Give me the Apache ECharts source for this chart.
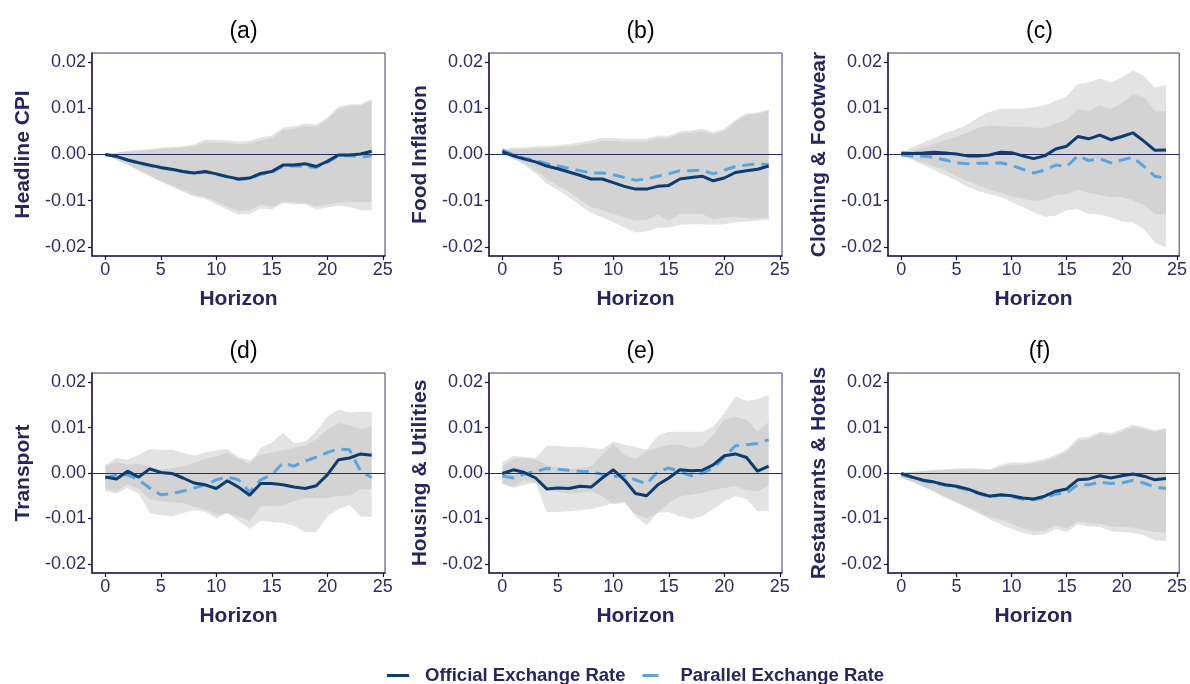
<!DOCTYPE html>
<html>
<head>
<meta charset="utf-8">
<title>Impulse responses of inflation components</title>
<script src="https://cdn.jsdelivr.net/npm/echarts@6/dist/echarts.min.js"></script>
<style>
  html, body { margin: 0; padding: 0; background: #ffffff; }
  #chart { width: 1190px; height: 684px; }
</style>
</head>
<body>
<div id="chart"></div>
<script>
// Horizon (months after the shock)
const horizon = [0, 1, 2, 3, 4, 5, 6, 7, 8, 9, 10, 11, 12, 13, 14, 15, 16, 17, 18, 19, 20, 21, 22, 23, 24];
const xTicks = [0, 5, 10, 15, 20, 25];
const yTicks = [-0.02, -0.01, 0, 0.01, 0.02];

const panelTitles = ['(a)', '(b)', '(c)', '(d)', '(e)', '(f)'];
const panelNames = ['Headline CPI', 'Food Inflation', 'Clothing & Footwear', 'Transport', 'Housing & Utilities', 'Restaurants & Hotels'];
const seriesNames = ['Official Exchange Rate', 'Parallel Exchange Rate'];

// (a) Headline CPI
const cpiOfficial   = [0, -0.0004, -0.0012, -0.0018, -0.0023, -0.0028, -0.0032, -0.0037, -0.0040, -0.0037, -0.0042, -0.0048, -0.0053, -0.0051, -0.0041, -0.0037, -0.0023, -0.0023, -0.0020, -0.0026, -0.0015, -0.0001, -0.0001, 0.0001, 0.0007];
const cpiParallel   = [0, -0.0005, -0.0012, -0.0019, -0.0024, -0.0029, -0.0033, -0.0037, -0.0041, -0.0038, -0.0043, -0.0049, -0.0054, -0.0052, -0.0043, -0.0039, -0.0025, -0.0025, -0.0026, -0.0028, -0.0017, -0.0003, -0.0002, -0.0006, -0.0003];
const cpiOfficialHi = [0, 0.0004, 0.0008, 0.0010, 0.0012, 0.0015, 0.0016, 0.0018, 0.0022, 0.0032, 0.0032, 0.0031, 0.0028, 0.0029, 0.0037, 0.0041, 0.0058, 0.0061, 0.0067, 0.0065, 0.0080, 0.0104, 0.0109, 0.0109, 0.0120];
const cpiOfficialLo = [0, -0.0012, -0.0023, -0.0035, -0.0047, -0.0059, -0.0070, -0.0081, -0.0091, -0.0096, -0.0108, -0.0120, -0.0130, -0.0129, -0.0117, -0.0119, -0.0105, -0.0108, -0.0108, -0.0120, -0.0115, -0.0111, -0.0114, -0.0121, -0.0121];
const cpiParallelHi = [0, 0.0003, 0.0006, 0.0008, 0.0010, 0.0012, 0.0013, 0.0015, 0.0018, 0.0026, 0.0026, 0.0025, 0.0023, 0.0024, 0.0031, 0.0035, 0.0053, 0.0056, 0.0062, 0.0060, 0.0076, 0.0098, 0.0105, 0.0106, 0.0118];
const cpiParallelLo = [0, -0.0010, -0.0021, -0.0033, -0.0045, -0.0057, -0.0067, -0.0077, -0.0087, -0.0092, -0.0102, -0.0113, -0.0122, -0.0121, -0.0109, -0.0113, -0.0103, -0.0104, -0.0106, -0.0112, -0.0108, -0.0104, -0.0103, -0.0103, -0.0103];

// (b) Food inflation
const foodOfficial   = [0.0006, -0.0003, -0.0010, -0.0016, -0.0025, -0.0031, -0.0038, -0.0045, -0.0053, -0.0053, -0.0061, -0.0069, -0.0075, -0.0075, -0.0069, -0.0067, -0.0053, -0.0050, -0.0047, -0.0057, -0.0051, -0.0039, -0.0035, -0.0032, -0.0025];
const foodParallel   = [0.0010, -0.0001, -0.0008, -0.0013, -0.0020, -0.0025, -0.0030, -0.0035, -0.0040, -0.0040, -0.0044, -0.0050, -0.0056, -0.0053, -0.0047, -0.0042, -0.0035, -0.0035, -0.0034, -0.0042, -0.0034, -0.0026, -0.0023, -0.0020, -0.0022];
const foodOfficialHi = [0.0009, 0.0012, 0.0012, 0.0014, 0.0014, 0.0016, 0.0018, 0.0021, 0.0025, 0.0029, 0.0029, 0.0028, 0.0028, 0.0028, 0.0035, 0.0035, 0.0045, 0.0047, 0.0050, 0.0044, 0.0051, 0.0071, 0.0085, 0.0088, 0.0096];
const foodOfficialLo = [0.0003, -0.0010, -0.0023, -0.0041, -0.0063, -0.0077, -0.0092, -0.0110, -0.0127, -0.0136, -0.0147, -0.0158, -0.0169, -0.0167, -0.0159, -0.0158, -0.0152, -0.0151, -0.0151, -0.0152, -0.0151, -0.0147, -0.0145, -0.0143, -0.0142];
const foodParallelHi = [0.0010, 0.0015, 0.0016, 0.0018, 0.0018, 0.0020, 0.0023, 0.0026, 0.0031, 0.0036, 0.0036, 0.0034, 0.0034, 0.0034, 0.0041, 0.0040, 0.0050, 0.0052, 0.0056, 0.0048, 0.0056, 0.0076, 0.0089, 0.0091, 0.0098];
const foodParallelLo = [0.0003, -0.0008, -0.0019, -0.0034, -0.0052, -0.0067, -0.0081, -0.0098, -0.0114, -0.0121, -0.0129, -0.0136, -0.0143, -0.0142, -0.0130, -0.0143, -0.0129, -0.0129, -0.0129, -0.0140, -0.0136, -0.0136, -0.0137, -0.0138, -0.0137];

// (c) Clothing & footwear
const clothOfficial   = [0.0003, 0.0002, 0.0003, 0.0005, 0.0003, 0.0001, -0.0003, -0.0003, -0.0001, 0.0005, 0.0004, -0.0003, -0.0009, -0.0003, 0.0012, 0.0018, 0.0039, 0.0034, 0.0042, 0.0032, 0.0039, 0.0047, 0.0029, 0.0009, 0.0010];
const clothParallel   = [-0.0001, -0.0003, -0.0004, -0.0006, -0.0012, -0.0018, -0.0020, -0.0019, -0.0019, -0.0018, -0.0023, -0.0032, -0.0040, -0.0034, -0.0023, -0.0026, -0.0003, -0.0013, -0.0009, -0.0018, -0.0012, -0.0006, -0.0026, -0.0047, -0.0052];
const clothOfficialHi = [0.0002, 0.0016, 0.0026, 0.0036, 0.0047, 0.0054, 0.0065, 0.0080, 0.0092, 0.0099, 0.0099, 0.0099, 0.0102, 0.0107, 0.0116, 0.0126, 0.0153, 0.0156, 0.0165, 0.0156, 0.0167, 0.0182, 0.0170, 0.0145, 0.0151];
const clothOfficialLo = [-0.0001, -0.0009, -0.0018, -0.0026, -0.0035, -0.0047, -0.0057, -0.0067, -0.0076, -0.0083, -0.0091, -0.0096, -0.0101, -0.0098, -0.0088, -0.0085, -0.0077, -0.0083, -0.0088, -0.0092, -0.0092, -0.0099, -0.0110, -0.0129, -0.0130];
const clothParallelHi = [0.0001, 0.0009, 0.0016, 0.0023, 0.0031, 0.0038, 0.0047, 0.0058, 0.0063, 0.0061, 0.0060, 0.0060, 0.0058, 0.0058, 0.0067, 0.0075, 0.0098, 0.0094, 0.0107, 0.0099, 0.0111, 0.0131, 0.0124, 0.0094, 0.0094];
const clothParallelLo = [-0.0002, -0.0012, -0.0023, -0.0034, -0.0045, -0.0057, -0.0070, -0.0079, -0.0086, -0.0092, -0.0103, -0.0114, -0.0125, -0.0135, -0.0133, -0.0121, -0.0118, -0.0129, -0.0130, -0.0136, -0.0145, -0.0147, -0.0162, -0.0191, -0.0202];

// (d) Transport
const transOfficial   = [-0.0009, -0.0013, 0.0004, -0.0009, 0.0009, 0.0001, -0.0001, -0.0011, -0.0022, -0.0026, -0.0034, -0.0017, -0.0031, -0.0049, -0.0023, -0.0023, -0.0026, -0.0031, -0.0034, -0.0028, -0.0004, 0.0029, 0.0033, 0.0042, 0.0039];
const transParallel   = [-0.0011, -0.0004, -0.0004, -0.0015, -0.0033, -0.0048, -0.0045, -0.0040, -0.0033, -0.0026, -0.0015, -0.0009, -0.0015, -0.0042, -0.0015, -0.0004, 0.0022, 0.0015, 0.0026, 0.0035, 0.0045, 0.0053, 0.0051, 0.0004, -0.0010];
const transOfficialHi = [0.0018, 0.0033, 0.0029, 0.0040, 0.0053, 0.0050, 0.0051, 0.0044, 0.0038, 0.0045, 0.0050, 0.0053, 0.0035, 0.0028, 0.0040, 0.0045, 0.0050, 0.0055, 0.0060, 0.0075, 0.0095, 0.0110, 0.0105, 0.0096, 0.0102];
const transOfficialLo = [-0.0035, -0.0040, -0.0025, -0.0035, -0.0058, -0.0062, -0.0065, -0.0066, -0.0075, -0.0080, -0.0092, -0.0088, -0.0105, -0.0123, -0.0105, -0.0108, -0.0110, -0.0116, -0.0130, -0.0130, -0.0095, -0.0080, -0.0070, -0.0096, -0.0096];
const transParallelHi = [0.0015, 0.0025, 0.0018, 0.0020, 0.0015, 0.0007, 0.0011, 0.0015, 0.0022, 0.0031, 0.0037, 0.0044, 0.0031, 0.0020, 0.0055, 0.0067, 0.0088, 0.0066, 0.0069, 0.0091, 0.0124, 0.0139, 0.0133, 0.0135, 0.0135];
const transParallelLo = [-0.0040, -0.0045, -0.0033, -0.0045, -0.0088, -0.0093, -0.0095, -0.0088, -0.0082, -0.0085, -0.0100, -0.0088, -0.0095, -0.0106, -0.0073, -0.0072, -0.0072, -0.0062, -0.0055, -0.0055, -0.0055, -0.0050, -0.0050, -0.0036, -0.0035];

// (e) Housing & utilities
const houseOfficial   = [-0.0001, 0.0007, 0.0001, -0.0011, -0.0035, -0.0033, -0.0034, -0.0029, -0.0031, -0.0011, 0.0007, -0.0015, -0.0045, -0.0050, -0.0026, -0.0011, 0.0007, 0.0005, 0.0006, 0.0018, 0.0038, 0.0042, 0.0034, 0.0004, 0.0015];
const houseParallel   = [-0.0006, -0.0011, -0.0002, 0.0003, 0.0010, 0.0008, 0.0006, 0.0004, 0.0003, -0.0003, -0.0008, -0.0005, -0.0015, -0.0024, 0.0003, 0.0011, 0.0003, -0.0006, 0.0000, 0.0010, 0.0035, 0.0060, 0.0062, 0.0065, 0.0073];
const houseOfficialHi = [0.0015, 0.0031, 0.0033, 0.0029, 0.0018, 0.0011, 0.0007, 0.0011, 0.0015, 0.0040, 0.0064, 0.0040, 0.0031, 0.0048, 0.0055, 0.0062, 0.0062, 0.0055, 0.0059, 0.0084, 0.0117, 0.0124, 0.0117, 0.0091, 0.0113];
const houseOfficialLo = [-0.0026, -0.0030, -0.0015, -0.0022, -0.0086, -0.0086, -0.0084, -0.0082, -0.0079, -0.0073, -0.0066, -0.0062, -0.0095, -0.0115, -0.0088, -0.0086, -0.0095, -0.0101, -0.0095, -0.0080, -0.0062, -0.0051, -0.0058, -0.0084, -0.0084];
const houseParallelHi = [0.0023, 0.0038, 0.0035, 0.0033, 0.0060, 0.0060, 0.0058, 0.0057, 0.0055, 0.0053, 0.0069, 0.0062, 0.0057, 0.0051, 0.0082, 0.0091, 0.0091, 0.0091, 0.0091, 0.0102, 0.0132, 0.0168, 0.0159, 0.0162, 0.0172];
const houseParallelLo = [-0.0022, -0.0033, -0.0026, -0.0022, -0.0037, -0.0042, -0.0045, -0.0044, -0.0040, -0.0051, -0.0069, -0.0066, -0.0091, -0.0099, -0.0088, -0.0066, -0.0051, -0.0048, -0.0044, -0.0037, -0.0033, -0.0029, -0.0038, -0.0040, -0.0028];

// (f) Restaurants & hotels
const hotelOfficial   = [-0.0001, -0.0009, -0.0016, -0.0020, -0.0026, -0.0029, -0.0035, -0.0044, -0.0051, -0.0048, -0.0050, -0.0055, -0.0057, -0.0051, -0.0040, -0.0035, -0.0015, -0.0013, -0.0006, -0.0011, -0.0006, -0.0002, -0.0007, -0.0015, -0.0012];
const hotelParallel   = [-0.0003, -0.0010, -0.0017, -0.0022, -0.0027, -0.0031, -0.0037, -0.0045, -0.0052, -0.0049, -0.0052, -0.0057, -0.0059, -0.0055, -0.0046, -0.0044, -0.0026, -0.0026, -0.0020, -0.0023, -0.0022, -0.0016, -0.0022, -0.0031, -0.0034];
const hotelOfficialHi = [0, 0.0003, 0.0005, 0.0007, 0.0008, 0.0010, 0.0011, 0.0010, 0.0008, 0.0018, 0.0023, 0.0023, 0.0026, 0.0031, 0.0040, 0.0051, 0.0077, 0.0080, 0.0091, 0.0088, 0.0096, 0.0106, 0.0101, 0.0094, 0.0099];
const hotelOfficialLo = [-0.0010, -0.0018, -0.0029, -0.0040, -0.0052, -0.0063, -0.0074, -0.0085, -0.0097, -0.0102, -0.0112, -0.0122, -0.0128, -0.0127, -0.0115, -0.0122, -0.0107, -0.0110, -0.0112, -0.0117, -0.0118, -0.0120, -0.0125, -0.0130, -0.0131];
const hotelParallelHi = [0, 0.0002, 0.0004, 0.0005, 0.0006, 0.0007, 0.0008, 0.0007, 0.0006, 0.0013, 0.0018, 0.0018, 0.0021, 0.0026, 0.0034, 0.0046, 0.0071, 0.0074, 0.0085, 0.0082, 0.0091, 0.0101, 0.0096, 0.0091, 0.0097];
const hotelParallelLo = [-0.0011, -0.0020, -0.0031, -0.0042, -0.0055, -0.0066, -0.0077, -0.0089, -0.0102, -0.0113, -0.0123, -0.0132, -0.0137, -0.0135, -0.0123, -0.0130, -0.0113, -0.0117, -0.0118, -0.0128, -0.0130, -0.0132, -0.0137, -0.0148, -0.0150];

const panels = [
  { official: cpiOfficial,   parallel: cpiParallel,   bands: [[cpiOfficialLo, cpiOfficialHi], [cpiParallelLo, cpiParallelHi]] },
  { official: foodOfficial,  parallel: foodParallel,  bands: [[foodOfficialLo, foodOfficialHi], [foodParallelLo, foodParallelHi]] },
  { official: clothOfficial, parallel: clothParallel, bands: [[clothOfficialLo, clothOfficialHi], [clothParallelLo, clothParallelHi]] },
  { official: transOfficial, parallel: transParallel, bands: [[transOfficialLo, transOfficialHi], [transParallelLo, transParallelHi]] },
  { official: houseOfficial, parallel: houseParallel, bands: [[houseOfficialLo, houseOfficialHi], [houseParallelLo, houseParallelHi]] },
  { official: hotelOfficial, parallel: hotelParallel, bands: [[hotelOfficialLo, hotelOfficialHi], [hotelParallelLo, hotelParallelHi]] }
];

// ---- styling ----
const FONT = '"Liberation Sans", Arial, Helvetica, sans-serif';
const NAVY = '#25255f';
const TICK_TEXT = '#2c2c68';
const OFFICIAL_COLOR = '#0c3c70';
const PARALLEL_COLOR = '#5aa5dd';
const BAND_FILL = 'rgba(188,188,188,0.42)';

const colLeft = [92, 489, 888];
const colWidth = 293;
const rowTop = [53, 373];
const rowHeight = [203, 200];

const grids = [], xAxes = [], yAxes = [], titles = [], series = [];

function bandRenderer(lo, hi) {
  return function (params, api) {
    if (params.dataIndex !== 0) return null;
    const pts = [];
    for (let i = 0; i < horizon.length; i++) pts.push(api.coord([horizon[i], hi[i]]));
    for (let i = horizon.length - 1; i >= 0; i--) pts.push(api.coord([horizon[i], lo[i]]));
    return { type: 'polygon', shape: { points: pts }, style: { fill: BAND_FILL } };
  };
}

panels.forEach((p, k) => {
  const r = Math.floor(k / 3), c = k % 3;
  const left = colLeft[c], top = rowTop[r], height = rowHeight[r];
  grids.push({
    left: left, top: top, width: colWidth, height: height,
    show: true, borderColor: '#3b3b7c', borderWidth: 1, backgroundColor: 'transparent'
  });
  xAxes.push({
    gridIndex: k, type: 'value', min: -1.2, max: 25.2,
    name: 'Horizon', nameLocation: 'middle', nameGap: 33,
    nameTextStyle: { fontFamily: FONT, fontSize: 21, fontWeight: 'bold', color: NAVY },
    axisLine: { show: true, onZero: false, lineStyle: { color: NAVY, width: 1.6 } },
    axisTick: { show: true, length: 4, customValues: xTicks, lineStyle: { color: '#111133', width: 1.2 } },
    axisLabel: { show: true, customValues: xTicks, margin: 5, fontFamily: FONT, fontSize: 18, color: TICK_TEXT },
    splitLine: { show: false }
  });
  yAxes.push({
    gridIndex: k, type: 'value', min: -0.022, max: 0.022,
    name: panelNames[k], nameLocation: 'middle', nameGap: 58,
    nameTextStyle: { fontFamily: FONT, fontSize: 21, fontWeight: 'bold', color: NAVY },
    axisLine: { show: true, onZero: false, lineStyle: { color: NAVY, width: 1.6 } },
    axisTick: { show: true, length: 4, customValues: yTicks, lineStyle: { color: '#111133', width: 1.2 } },
    axisLabel: { show: true, customValues: yTicks, margin: 6, fontFamily: FONT, fontSize: 18, color: TICK_TEXT,
                 formatter: v => v.toFixed(2) },
    splitLine: { show: false }
  });
  titles.push({
    text: panelTitles[k], left: left + colWidth / 2, top: top - 38, textAlign: 'center',
    textStyle: { fontFamily: FONT, fontSize: 23, fontWeight: 'normal', color: '#000000' }
  });

  p.bands.forEach(([lo, hi]) => {
    series.push({
      type: 'custom', xAxisIndex: k, yAxisIndex: k, z: 1, silent: true, clip: true,
      data: horizon.map((h, i) => [h, lo[i], hi[i]]),
      encode: { x: 0, y: [1, 2] },
      renderItem: bandRenderer(lo, hi)
    });
  });

  // zero reference line
  series.push({
    type: 'line', xAxisIndex: k, yAxisIndex: k, z: 2, data: [], silent: true,
    markLine: {
      silent: true, symbol: 'none', label: { show: false }, animation: false,
      lineStyle: { color: '#2a2a6e', width: 1.2, type: 'solid' },
      data: [{ yAxis: 0 }]
    }
  });

  series.push({
    name: seriesNames[1], type: 'line', xAxisIndex: k, yAxisIndex: k, z: 4,
    data: horizon.map((h, i) => [h, p.parallel[i]]),
    showSymbol: false, symbol: 'none',
    lineStyle: { color: PARALLEL_COLOR, width: 3, type: [12, 7], cap: 'butt' },
    itemStyle: { color: PARALLEL_COLOR }
  });
  series.push({
    name: seriesNames[0], type: 'line', xAxisIndex: k, yAxisIndex: k, z: 5,
    data: horizon.map((h, i) => [h, p.official[i]]),
    showSymbol: false, symbol: 'none',
    lineStyle: { color: OFFICIAL_COLOR, width: 3, type: 'solid' },
    itemStyle: { color: OFFICIAL_COLOR }
  });
});

const chart = echarts.init(document.getElementById('chart'), null, { renderer: 'canvas' });
chart.setOption({
  animation: false,
  backgroundColor: '#ffffff',
  title: titles,
  grid: grids,
  xAxis: xAxes,
  yAxis: yAxes,
  legend: {
    data: [
      { name: seriesNames[0], icon: 'path://M0 0H22V3H0Z' },
      // a single dash of the dashed line, padded to the full icon width
      { name: seriesNames[1], icon: 'path://M0 0H16V3H0Z M21.9 1.4H22V1.6H21.9Z' }
    ],
    left: 382, top: 661,
    itemWidth: 22, itemHeight: 3, itemGap: 17,
    selectedMode: false,
    itemStyle: { borderWidth: 0 },
    lineStyle: { width: 0 },
    textStyle: { fontFamily: FONT, fontSize: 18.5, fontWeight: 'bold', color: NAVY, padding: [0, 0, 0, 11] }
  },
  series: series
});
</script>
</body>
</html>
